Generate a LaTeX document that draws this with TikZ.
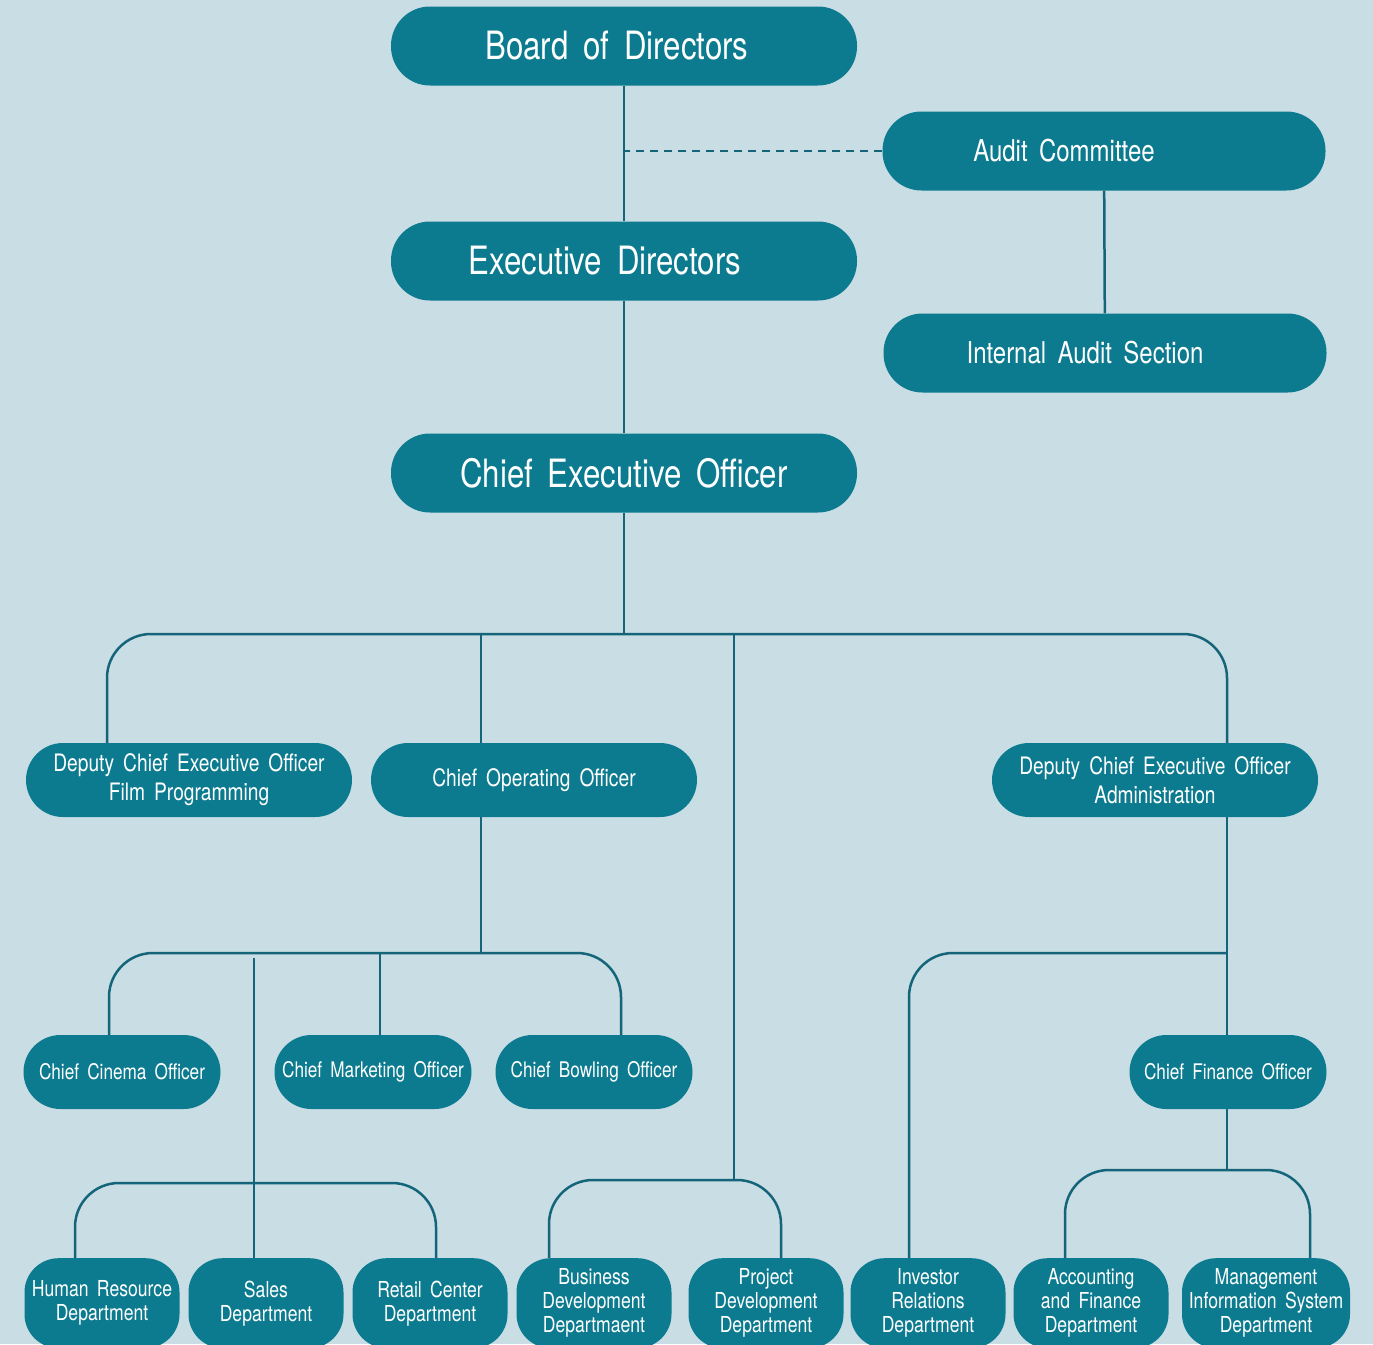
\documentclass[tikz,border=0pt]{standalone}
\usepackage{fontspec}
\setmainfont{TeX Gyre Heros}[FakeStretch=0.8, WordSpace=1.7]
\usetikzlibrary{positioning,calc}
\definecolor{bgblue}{HTML}{C9DDE4}
\definecolor{boxteal}{HTML}{0C7B8F}
\definecolor{linkteal}{HTML}{15657A}

\begin{document}
\begin{tikzpicture}[x=1pt, y=-1pt,
    box/.style={fill=boxteal, text=white, align=center, inner sep=0pt},
    big/.style={box, minimum width=466pt, minimum height=79pt, rounded corners=39pt, font=\fontsize{39}{41}\selectfont},
    mid/.style={box, minimum width=443pt, minimum height=79pt, rounded corners=39pt, font=\fontsize{30}{31}\selectfont},
    deputy/.style={box, minimum width=326pt, minimum height=74pt, rounded corners=37pt, font=\fontsize{24}{29}\selectfont},
    chief/.style={box, minimum width=197pt, minimum height=74pt, rounded corners=37pt, font=\fontsize{21.5}{24}\selectfont},
    dept/.style={box, anchor=north, minimum width=155pt, minimum height=90pt, rounded corners=34pt, font=\fontsize{22}{24}\selectfont},
    link/.style={draw=linkteal, line width=2.5pt},
    bus/.style={link, rounded corners=44pt}]
  \fill[bgblue] (0,0) rectangle (1373,1344);
  \useasboundingbox (0,0) rectangle (1373,1344);
  \clip (0,0) rectangle (1373,1344);

  % top of the chart
  \node[big] (board) at (624,46) {Board of Directors\hspace*{14pt}};
  \node[mid] (audit) at (1104,151) {Audit Committee\hspace*{80pt}};
  \node[big] (exec) at (624,261) {Executive Directors\hspace*{38pt}};
  \node[mid] (internal) at (1105,353) {Internal Audit Section\hspace*{40pt}};
  \node[big] (ceo) at (624,473) {Chief Executive Officer};

  % second level
  \node[deputy] (dfilm) at (189,780) {Deputy Chief Executive Officer\\Film Programming};
  \node[deputy] (coo) at (534,780) {Chief Operating Officer};
  \node[deputy] (dadmin) at (1155,780) {Deputy Chief Executive Officer\\Administration};

  \node[chief] (cinema) at (122,1072) {Chief Cinema Officer};
  \node[chief] (marketing) at (373,1072) {Chief Marketing Officer};
  \node[chief] (bowling) at (594,1072) {Chief Bowling Officer};
  \node[chief] (finance) at (1228,1072) {Chief Finance Officer};

  % departments
  \node[dept] (hr) at (102,1258) {Human Resource\\Department};
  \node[dept] (sales) at (266,1258) {Sales\\Department};
  \node[dept] (retail) at (430,1258) {Retail Center\\Department};
  \node[dept] (business) at (594,1258) {Business\\Development\\Departmaent};
  \node[dept] (project) at (766,1258) {Project\\Development\\Department};
  \node[dept] (investor) at (928,1258) {Investor\\Relations\\Department};
  \node[dept] (accounting) at (1091,1258) {Accounting\\and Finance\\Department};
  \node[dept, minimum width=168pt] (mis) at (1266,1258) {Management\\Information System\\Department};

  \coordinate (hub) at (624,634);
  \coordinate (coohub) at (481,953);
  \coordinate (salestop) at (254,958);
  \coordinate (hrhub) at (254,1183);
  \coordinate (devhub) at (734,1180);
  \coordinate (adminhub) at (1227,953);
  \coordinate (finhub) at (1227,1170);

  \draw[link] (board) -- (exec);
  \draw[link, dash pattern=on 8pt off 6pt] (audit.west) -- (audit.west -| board);
  \draw[link] (audit) -- (internal);
  \draw[link] (exec) -- (ceo);
  \draw[link] (ceo) -- (hub);
  \draw[bus] (dfilm.north -| 107,0) |- (hub) -| (dadmin.north -| adminhub);
  \draw[link] (coo.north -| coohub) -- (hub -| coohub);
  \draw[link] (hub -| devhub) -- (devhub);
  \draw[bus] (business.north -| 549,0) |- (devhub -| 781,0) -- (project.north -| 781,0);

  \draw[link] (coo.south -| coohub) -- (coohub);
  \draw[bus] (cinema.north -| 109,0) |- (coohub) -| (bowling.north -| 621,0);
  \draw[link] (marketing.north -| 380,0) -- (coohub -| 380,0);
  \draw[link] (salestop) -- (sales.north -| salestop);
  \draw[bus] (hr.north -| 75,0) |- (hrhub) -| (retail.north -| 436,0);

  \draw[link] (dadmin.south -| adminhub) -- (finance.north -| adminhub);
  \draw[bus] (investor.north -| 909,0) |- (adminhub);
  \draw[link] (finance.south -| finhub) -- (finhub);
  \draw[bus] (accounting.north -| 1065,0) |- (finhub -| 1310,0) -- (mis.north -| 1310,0);
\end{tikzpicture}
\end{document}
